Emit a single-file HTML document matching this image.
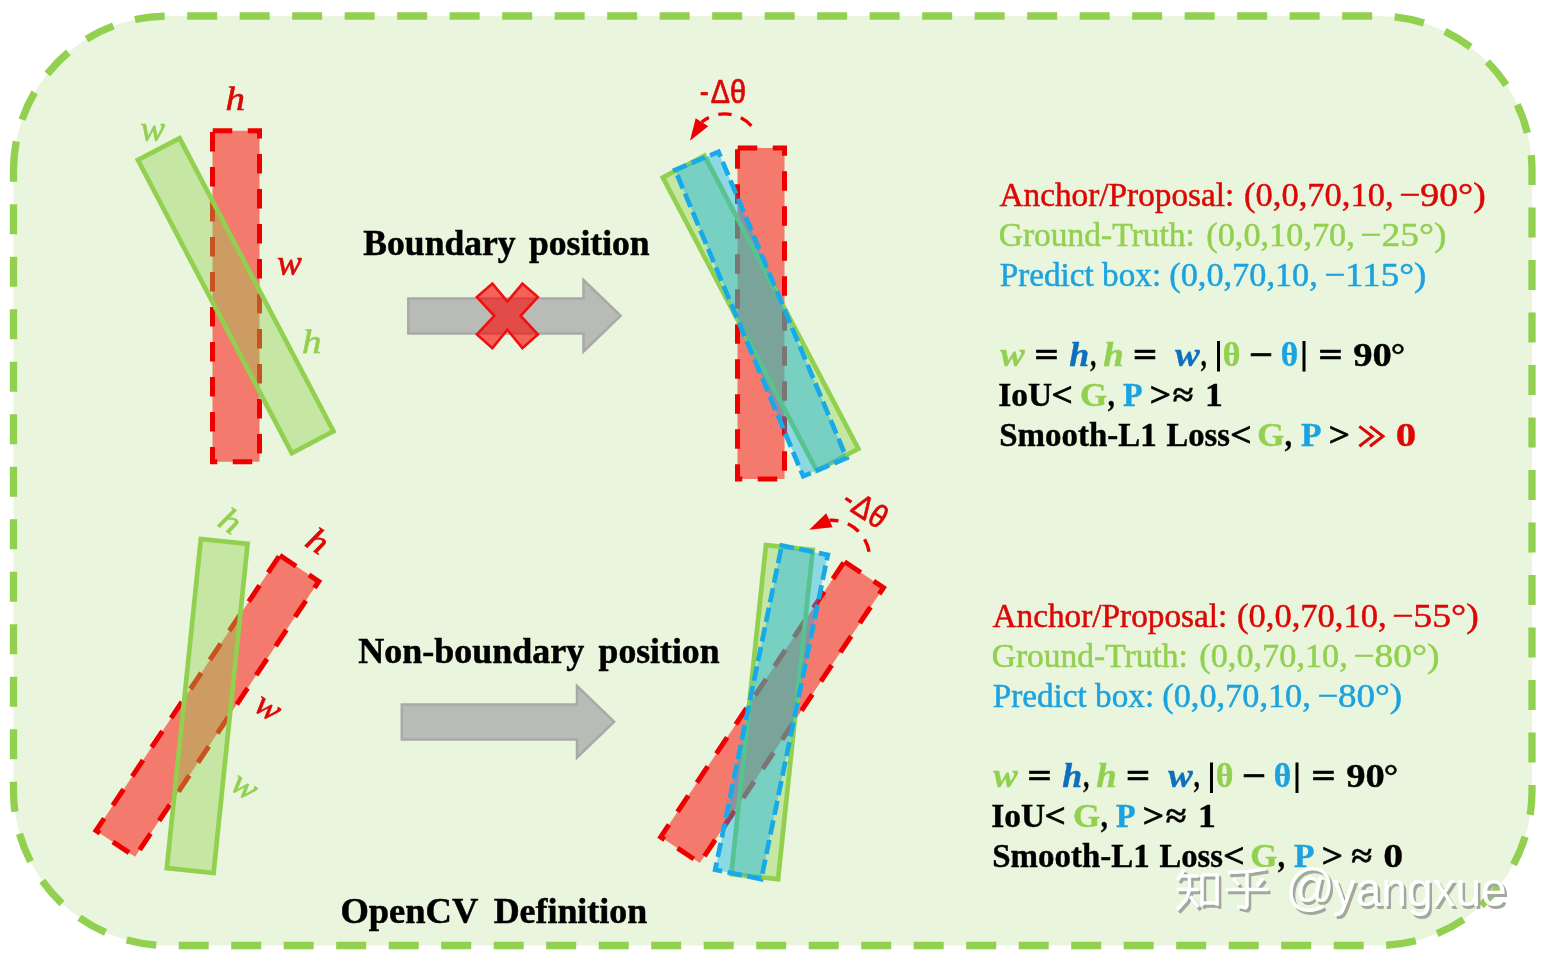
<!DOCTYPE html>
<html><head><meta charset="utf-8"><title>OpenCV Definition</title>
<style>html,body{margin:0;padding:0;background:#fff;}svg{display:block;will-change:transform;font-family:"Liberation Serif",serif;}</style>
</head><body>
<svg width="1546" height="962" viewBox="0 0 1546 962">
<rect width="1546" height="962" fill="#ffffff"/>
<path d="M13.5 170.3 A154.3 154.3 0 0 1 167.8 16 L1377.7 16 A154.3 154.3 0 0 1 1532 170.3 L1532 791.2 A154.3 154.3 0 0 1 1377.7 945.5 L167.8 945.5 A154.3 154.3 0 0 1 13.5 791.2 Z" fill="#e9f5dc" stroke="#92d050" stroke-width="7.3" stroke-dasharray="30 22.5" stroke-dashoffset="0.87"/>
<g transform="translate(236 296.2) rotate(0)"><path d="M-23.5 -165.5 L23.5 -165.5 L23.5 165.5 L-23.5 165.5 Z" fill="rgba(255,0,0,0.5)" stroke="#ee0000" stroke-width="5" stroke-dasharray="19.5 15.5" stroke-dashoffset="-0.25"/></g>
<g transform="translate(235.7 295.7) rotate(-27.7)"><path d="M-23.5 -165.5 L23.5 -165.5 L23.5 165.5 L-23.5 165.5 Z" fill="rgba(146,208,80,0.4)" stroke="#92d050" stroke-width="4.7"/></g>
<g transform="translate(761 313.4) rotate(0)"><path d="M-23.5 -165.5 L23.5 -165.5 L23.5 165.5 L-23.5 165.5 Z" fill="rgba(255,0,0,0.5)" stroke="#ee0000" stroke-width="5" stroke-dasharray="19.5 15.5" stroke-dashoffset="-0.25"/></g>
<g transform="translate(760.6 313.2) rotate(-27.7)"><path d="M-23.5 -165.5 L23.5 -165.5 L23.5 165.5 L-23.5 165.5 Z" fill="rgba(146,208,80,0.4)" stroke="#92d050" stroke-width="4.7"/></g>
<g transform="translate(760.85 314.0) rotate(-22.7)"><path d="M-23.5 -163.65 L-23.5 -166 L23.5 -166 L23.5 166 L-23.5 166 Z" fill="rgba(0,176,240,0.4)" stroke="#17aaea" stroke-width="4.7" stroke-dasharray="14.5 5.5" stroke-dashoffset="-0.25"/></g>
<g transform="translate(207.4 706.0) rotate(33.7)"><path d="M-23.5 -165.5 L23.5 -165.5 L23.5 165.5 L-23.5 165.5 Z" fill="rgba(255,0,0,0.5)" stroke="#ee0000" stroke-width="5" stroke-dasharray="19.5 15.5" stroke-dashoffset="-0.25"/></g>
<g transform="translate(207.2 706.0) rotate(5.9)"><path d="M-23.5 -165.5 L23.5 -165.5 L23.5 165.5 L-23.5 165.5 Z" fill="rgba(146,208,80,0.4)" stroke="#92d050" stroke-width="4.7"/></g>
<g transform="translate(772.1 712.3) rotate(33.7)"><path d="M-23.5 -165.5 L23.5 -165.5 L23.5 165.5 L-23.5 165.5 Z" fill="rgba(255,0,0,0.5)" stroke="#ee0000" stroke-width="5" stroke-dasharray="19.5 15.5" stroke-dashoffset="-0.25"/></g>
<g transform="translate(772.0 712.1) rotate(6.0)"><path d="M-23.5 -165.5 L23.5 -165.5 L23.5 165.5 L-23.5 165.5 Z" fill="rgba(146,208,80,0.4)" stroke="#92d050" stroke-width="4.7"/></g>
<g transform="translate(771.5 712.3) rotate(11.6)"><path d="M-23.5 -163.15 L-23.5 -165.5 L23.5 -165.5 L23.5 165.5 L-23.5 165.5 Z" fill="rgba(0,176,240,0.4)" stroke="#17aaea" stroke-width="4.7" stroke-dasharray="14.5 5.5" stroke-dashoffset="-0.25"/></g>
<path d="M408.3 298.5 L583.5 298.5 L583.5 280 L620.6 315.8 L583.5 351.5 L583.5 333.5 L408.3 333.5 Z" fill="#b9bcb6" stroke="#a7aaa5" stroke-width="2.5" stroke-linejoin="miter"/>
<path d="M401.8 704.5 L577 704.5 L577 686 L614.1 721.8 L577 757.5 L577 739.5 L401.8 739.5 Z" fill="#b9bcb6" stroke="#a7aaa5" stroke-width="2.5" stroke-linejoin="miter"/>
<path d="M476.9 297.1 L492.4 283.6 L507.4 301.5 L522.4 283.6 L537.9 297.1 L520.6 315.8 L537.9 334.4 L522.4 348.1 L507.4 329.8 L492.4 348.1 L476.9 334.4 L494.3 315.8 Z" fill="rgba(255,0,0,0.6)" stroke="#ee1010" stroke-width="2.6" stroke-linejoin="miter"/>
<path d="M751.35 125.8 A36 36 0 0 0 701.8 122" fill="none" stroke="#ee0000" stroke-width="3.4" stroke-dasharray="13.3 9.8"/>
<path d="M690 140.7 L695.7 118.3 L708.3 126.3 Z" fill="#ee0000"/>
<path d="M869.06 551.7 A37.9 37.9 0 0 0 829.45 520.27" fill="none" stroke="#ee0000" stroke-width="3.4" stroke-dasharray="13.3 9.8"/>
<path d="M809.2 529.7 L826.2 513.3 L832.6 527.3 Z" fill="#ee0000"/>
<text x="0.3" y="0" font-size="32.4" fill="#dd0806" font-family="Liberation Sans, sans-serif" textLength="9" lengthAdjust="spacingAndGlyphs" stroke="#dd0806" stroke-width="0.7" transform="translate(699.5 102.8)">-</text><text x="11.2" y="0" font-size="32.4" fill="#dd0806" font-family="Liberation Sans, sans-serif" textLength="35.2" lengthAdjust="spacingAndGlyphs" stroke="#dd0806" stroke-width="0.7" transform="translate(699.5 102.8)">Δθ</text>
<text x="0.3" y="0" font-size="32.4" fill="#dd0806" font-family="Liberation Sans, sans-serif" textLength="9" lengthAdjust="spacingAndGlyphs" stroke="#dd0806" stroke-width="0.7" transform="translate(839.8 504.8) rotate(32.7)">-</text><text x="11.2" y="0" font-size="32.4" fill="#dd0806" font-family="Liberation Sans, sans-serif" textLength="35.2" lengthAdjust="spacingAndGlyphs" stroke="#dd0806" stroke-width="0.7" transform="translate(839.8 504.8) rotate(32.7)">Δθ</text>
<text x="0" y="0" font-size="33.9" fill="#dd0806" font-style="italic" stroke="#dd0806" stroke-width="0.6" transform="translate(225.5 109.6) rotate(0) scale(1.15 1)">h</text>
<text x="0" y="0" font-size="35.4" fill="#92d050" font-style="italic" stroke="#92d050" stroke-width="0.6" transform="translate(140.3 140.8) rotate(0) scale(1.05 1)">w</text>
<text x="0" y="0" font-size="35.4" fill="#dd0806" font-style="italic" stroke="#dd0806" stroke-width="0.6" transform="translate(277 274.5) rotate(0) scale(1.05 1)">w</text>
<text x="0" y="0" font-size="33.9" fill="#92d050" font-style="italic" stroke="#92d050" stroke-width="0.6" transform="translate(302 353.3) rotate(0) scale(1.15 1)">h</text>
<text x="0" y="0" font-size="33.9" fill="#92d050" font-style="italic" stroke="#92d050" stroke-width="0.6" transform="translate(216 525) rotate(33) scale(1.15 1)">h</text>
<text x="0" y="0" font-size="33.9" fill="#dd0806" font-style="italic" stroke="#dd0806" stroke-width="0.6" transform="translate(303.5 545) rotate(33) scale(1.15 1)">h</text>
<text x="0" y="0" font-size="35.4" fill="#dd0806" font-style="italic" stroke="#dd0806" stroke-width="0.6" transform="translate(252 709.5) rotate(33) scale(1.05 1)">w</text>
<text x="0" y="0" font-size="35.4" fill="#92d050" font-style="italic" stroke="#92d050" stroke-width="0.6" transform="translate(228.5 788.5) rotate(33) scale(1.05 1)">w</text>
<text x="363.35" y="254.5" font-size="35.6" fill="#000" font-weight="bold" textLength="152.19" lengthAdjust="spacingAndGlyphs" stroke="#000" stroke-width="0.5">Boundary</text>
<text x="528.95" y="254.5" font-size="35.6" fill="#000" font-weight="bold" textLength="120.69" lengthAdjust="spacingAndGlyphs" stroke="#000" stroke-width="0.5">position</text>
<text x="358.35" y="663.1" font-size="35.6" fill="#000" font-weight="bold" textLength="225.99" lengthAdjust="spacingAndGlyphs" stroke="#000" stroke-width="0.5">Non-boundary</text>
<text x="598.55" y="663.1" font-size="35.6" fill="#000" font-weight="bold" textLength="120.99" lengthAdjust="spacingAndGlyphs" stroke="#000" stroke-width="0.5">position</text>
<text x="340.42" y="922.6" font-size="35.6" fill="#000" font-weight="bold" textLength="137.91" lengthAdjust="spacingAndGlyphs" stroke="#000" stroke-width="0.5">OpenCV</text>
<text x="493.65" y="922.6" font-size="35.6" fill="#000" font-weight="bold" textLength="153.49" lengthAdjust="spacingAndGlyphs" stroke="#000" stroke-width="0.5">Definition</text>
<text x="999.45" y="205.7" font-size="34" fill="#dd0806" textLength="234.9" lengthAdjust="spacingAndGlyphs" stroke="#dd0806" stroke-width="0.5">Anchor/Proposal:</text>
<text x="1244.03" y="205.7" font-size="34" fill="#dd0806" textLength="149.54" lengthAdjust="spacingAndGlyphs" stroke="#dd0806" stroke-width="0.5">(0,0,70,10,</text>
<text x="1399.04" y="205.7" font-size="34" fill="#dd0806" textLength="86.68" lengthAdjust="spacingAndGlyphs" stroke="#dd0806" stroke-width="0.5">−90°)</text>
<text x="998.76" y="245.7" font-size="34" fill="#92d050" textLength="196.1" lengthAdjust="spacingAndGlyphs" stroke="#92d050" stroke-width="0.5">Ground-Truth:</text>
<text x="1206.24" y="245.7" font-size="34" fill="#92d050" textLength="148.62" lengthAdjust="spacingAndGlyphs" stroke="#92d050" stroke-width="0.5">(0,0,10,70,</text>
<text x="1360.35" y="245.7" font-size="34" fill="#92d050" textLength="86.16" lengthAdjust="spacingAndGlyphs" stroke="#92d050" stroke-width="0.5">−25°)</text>
<text x="999.75" y="285.7" font-size="34" fill="#1ba3e1" textLength="161.39" lengthAdjust="spacingAndGlyphs" stroke="#1ba3e1" stroke-width="0.5">Predict box:</text>
<text x="1169.24" y="285.7" font-size="34" fill="#1ba3e1" textLength="148.62" lengthAdjust="spacingAndGlyphs" stroke="#1ba3e1" stroke-width="0.5">(0,0,70,10,</text>
<text x="1324.16" y="285.7" font-size="34" fill="#1ba3e1" textLength="102.13" lengthAdjust="spacingAndGlyphs" stroke="#1ba3e1" stroke-width="0.5">−115°)</text>
<text x="1000.3" y="365.6" font-size="34" fill="#92d050" font-weight="bold" font-style="italic" textLength="24.45" lengthAdjust="spacingAndGlyphs" stroke="#92d050" stroke-width="0.4">w</text>
<text x="1034.5" y="365.6" font-size="34" fill="#000" font-weight="bold" textLength="24.16" lengthAdjust="spacingAndGlyphs" stroke="#000" stroke-width="0.7">=</text>
<text x="1069.2" y="365.6" font-size="34" fill="#0f6fbe" font-weight="bold" font-style="italic" textLength="19.96" lengthAdjust="spacingAndGlyphs" stroke="#0f6fbe" stroke-width="0.4">h</text>
<text x="1090.2" y="365.6" font-size="34" fill="#000" font-weight="bold" textLength="5.95" lengthAdjust="spacingAndGlyphs" stroke="#000" stroke-width="0.4">,</text>
<text x="1103.2" y="365.6" font-size="34" fill="#92d050" font-weight="bold" font-style="italic" textLength="20.48" lengthAdjust="spacingAndGlyphs" stroke="#92d050" stroke-width="0.4">h</text>
<text x="1132.9" y="365.6" font-size="34" fill="#000" font-weight="bold" textLength="24.16" lengthAdjust="spacingAndGlyphs" stroke="#000" stroke-width="0.7">=</text>
<text x="1174.9" y="365.6" font-size="34" fill="#0f6fbe" font-weight="bold" font-style="italic" textLength="24.75" lengthAdjust="spacingAndGlyphs" stroke="#0f6fbe" stroke-width="0.4">w</text>
<text x="1200.7" y="365.6" font-size="34" fill="#000" font-weight="bold" textLength="5.95" lengthAdjust="spacingAndGlyphs" stroke="#000" stroke-width="0.4">,</text>
<rect x="1217" y="341" width="3" height="30.5" fill="#000"/>
<text x="1222.81" y="365.6" font-size="34" fill="#92d050" font-weight="bold" textLength="17.64" lengthAdjust="spacingAndGlyphs" stroke="#92d050" stroke-width="0.4">θ</text>
<text x="1248.7" y="365.6" font-size="34" fill="#000" font-weight="bold" textLength="24.16" lengthAdjust="spacingAndGlyphs" stroke="#000" stroke-width="0.7">−</text>
<text x="1280.82" y="365.6" font-size="34" fill="#1ba3e1" font-weight="bold" textLength="17.41" lengthAdjust="spacingAndGlyphs" stroke="#1ba3e1" stroke-width="0.4">θ</text>
<rect x="1302.5" y="341" width="3" height="30.5" fill="#000"/>
<text x="1318.5" y="365.6" font-size="34" fill="#000" font-weight="bold" textLength="24.16" lengthAdjust="spacingAndGlyphs" stroke="#000" stroke-width="0.7">=</text>
<text x="1353.2" y="365.6" font-size="34" fill="#000" font-weight="bold" textLength="38.64" lengthAdjust="spacingAndGlyphs" stroke="#000" stroke-width="0.4">90</text>
<text x="1390.84" y="365.6" font-size="34" fill="#000" font-weight="bold" textLength="14.46" lengthAdjust="spacingAndGlyphs" stroke="#000" stroke-width="0.4">°</text>
<text x="998.32" y="405.7" font-size="34" fill="#000" font-weight="bold" textLength="53.93" lengthAdjust="spacingAndGlyphs" stroke="#000" stroke-width="0.4">IoU</text>
<text x="1051.45" y="405.7" font-size="34" fill="#000" font-weight="bold" textLength="21.31" lengthAdjust="spacingAndGlyphs" stroke="#000" stroke-width="0.7">&lt;</text>
<text x="1079.97" y="405.7" font-size="34" fill="#92d050" font-weight="bold" textLength="27.19" lengthAdjust="spacingAndGlyphs" stroke="#92d050" stroke-width="0.4">G</text>
<text x="1107.7" y="405.7" font-size="34" fill="#000" font-weight="bold" textLength="7.01" lengthAdjust="spacingAndGlyphs" stroke="#000" stroke-width="0.4">,</text>
<text x="1123.1" y="405.7" font-size="34" fill="#1ba3e1" font-weight="bold" textLength="19.63" lengthAdjust="spacingAndGlyphs" stroke="#1ba3e1" stroke-width="0.4">P</text>
<text x="1149.85" y="405.7" font-size="34" fill="#000" font-weight="bold" textLength="21.31" lengthAdjust="spacingAndGlyphs" stroke="#000" stroke-width="0.7">&gt;</text>
<text x="1172.7" y="405.7" font-size="34" fill="#000" font-weight="bold" textLength="20.53" lengthAdjust="spacingAndGlyphs" stroke="#000" stroke-width="0.4">≈</text>
<text x="1205.1" y="405.7" font-size="34" fill="#000" font-weight="bold" textLength="17.85" lengthAdjust="spacingAndGlyphs" stroke="#000" stroke-width="0.4">1</text>
<text x="999.23" y="445.7" font-size="34" fill="#000" font-weight="bold" textLength="157.44" lengthAdjust="spacingAndGlyphs" stroke="#000" stroke-width="0.4">Smooth-L1</text>
<text x="1166.5" y="445.7" font-size="34" fill="#000" font-weight="bold" textLength="63.42" lengthAdjust="spacingAndGlyphs" stroke="#000" stroke-width="0.4">Loss</text>
<text x="1230.35" y="445.7" font-size="34" fill="#000" font-weight="bold" textLength="21.31" lengthAdjust="spacingAndGlyphs" stroke="#000" stroke-width="0.7">&lt;</text>
<text x="1257.17" y="445.7" font-size="34" fill="#92d050" font-weight="bold" textLength="27.19" lengthAdjust="spacingAndGlyphs" stroke="#92d050" stroke-width="0.4">G</text>
<text x="1284.7" y="445.7" font-size="34" fill="#000" font-weight="bold" textLength="7.22" lengthAdjust="spacingAndGlyphs" stroke="#000" stroke-width="0.4">,</text>
<text x="1301.1" y="445.7" font-size="34" fill="#1ba3e1" font-weight="bold" textLength="20.56" lengthAdjust="spacingAndGlyphs" stroke="#1ba3e1" stroke-width="0.4">P</text>
<text x="1328.76" y="445.7" font-size="34" fill="#000" font-weight="bold" textLength="21.2" lengthAdjust="spacingAndGlyphs" stroke="#000" stroke-width="0.7">&gt;</text>
<path d="M1359.3 426.4 L1372.3 436.3 L1359.3 446.2" fill="none" stroke="#dd0806" stroke-width="3" stroke-linejoin="miter"/>
<path d="M1370.0 426.4 L1383.0 436.3 L1370.0 446.2" fill="none" stroke="#dd0806" stroke-width="3" stroke-linejoin="miter"/>
<text x="1395.79" y="445.7" font-size="34" fill="#dd0806" font-weight="bold" textLength="20.51" lengthAdjust="spacingAndGlyphs" stroke="#dd0806" stroke-width="0.4">0</text>
<text x="992.45" y="627.1" font-size="34" fill="#dd0806" textLength="234.9" lengthAdjust="spacingAndGlyphs" stroke="#dd0806" stroke-width="0.5">Anchor/Proposal:</text>
<text x="1237.03" y="627.1" font-size="34" fill="#dd0806" textLength="149.54" lengthAdjust="spacingAndGlyphs" stroke="#dd0806" stroke-width="0.5">(0,0,70,10,</text>
<text x="1392.04" y="627.1" font-size="34" fill="#dd0806" textLength="86.68" lengthAdjust="spacingAndGlyphs" stroke="#dd0806" stroke-width="0.5">−55°)</text>
<text x="991.76" y="667.2" font-size="34" fill="#92d050" textLength="196.1" lengthAdjust="spacingAndGlyphs" stroke="#92d050" stroke-width="0.5">Ground-Truth:</text>
<text x="1199.24" y="667.2" font-size="34" fill="#92d050" textLength="148.62" lengthAdjust="spacingAndGlyphs" stroke="#92d050" stroke-width="0.5">(0,0,70,10,</text>
<text x="1353.35" y="667.2" font-size="34" fill="#92d050" textLength="86.16" lengthAdjust="spacingAndGlyphs" stroke="#92d050" stroke-width="0.5">−80°)</text>
<text x="992.75" y="707.2" font-size="34" fill="#1ba3e1" textLength="161.39" lengthAdjust="spacingAndGlyphs" stroke="#1ba3e1" stroke-width="0.5">Predict box:</text>
<text x="1162.24" y="707.2" font-size="34" fill="#1ba3e1" textLength="148.62" lengthAdjust="spacingAndGlyphs" stroke="#1ba3e1" stroke-width="0.5">(0,0,70,10,</text>
<text x="1317.16" y="707.2" font-size="34" fill="#1ba3e1" textLength="85.03" lengthAdjust="spacingAndGlyphs" stroke="#1ba3e1" stroke-width="0.5">−80°)</text>
<text x="993.3" y="787.1" font-size="34" fill="#92d050" font-weight="bold" font-style="italic" textLength="24.45" lengthAdjust="spacingAndGlyphs" stroke="#92d050" stroke-width="0.4">w</text>
<text x="1027.5" y="787.1" font-size="34" fill="#000" font-weight="bold" textLength="24.16" lengthAdjust="spacingAndGlyphs" stroke="#000" stroke-width="0.7">=</text>
<text x="1062.2" y="787.1" font-size="34" fill="#0f6fbe" font-weight="bold" font-style="italic" textLength="19.96" lengthAdjust="spacingAndGlyphs" stroke="#0f6fbe" stroke-width="0.4">h</text>
<text x="1083.2" y="787.1" font-size="34" fill="#000" font-weight="bold" textLength="5.95" lengthAdjust="spacingAndGlyphs" stroke="#000" stroke-width="0.4">,</text>
<text x="1096.2" y="787.1" font-size="34" fill="#92d050" font-weight="bold" font-style="italic" textLength="20.48" lengthAdjust="spacingAndGlyphs" stroke="#92d050" stroke-width="0.4">h</text>
<text x="1125.9" y="787.1" font-size="34" fill="#000" font-weight="bold" textLength="24.16" lengthAdjust="spacingAndGlyphs" stroke="#000" stroke-width="0.7">=</text>
<text x="1167.9" y="787.1" font-size="34" fill="#0f6fbe" font-weight="bold" font-style="italic" textLength="24.75" lengthAdjust="spacingAndGlyphs" stroke="#0f6fbe" stroke-width="0.4">w</text>
<text x="1193.7" y="787.1" font-size="34" fill="#000" font-weight="bold" textLength="5.95" lengthAdjust="spacingAndGlyphs" stroke="#000" stroke-width="0.4">,</text>
<rect x="1210" y="762.5" width="3" height="30.5" fill="#000"/>
<text x="1215.81" y="787.1" font-size="34" fill="#92d050" font-weight="bold" textLength="17.64" lengthAdjust="spacingAndGlyphs" stroke="#92d050" stroke-width="0.4">θ</text>
<text x="1241.7" y="787.1" font-size="34" fill="#000" font-weight="bold" textLength="24.16" lengthAdjust="spacingAndGlyphs" stroke="#000" stroke-width="0.7">−</text>
<text x="1273.82" y="787.1" font-size="34" fill="#1ba3e1" font-weight="bold" textLength="17.41" lengthAdjust="spacingAndGlyphs" stroke="#1ba3e1" stroke-width="0.4">θ</text>
<rect x="1295.5" y="762.5" width="3" height="30.5" fill="#000"/>
<text x="1311.5" y="787.1" font-size="34" fill="#000" font-weight="bold" textLength="24.16" lengthAdjust="spacingAndGlyphs" stroke="#000" stroke-width="0.7">=</text>
<text x="1346.2" y="787.1" font-size="34" fill="#000" font-weight="bold" textLength="38.64" lengthAdjust="spacingAndGlyphs" stroke="#000" stroke-width="0.4">90</text>
<text x="1383.84" y="787.1" font-size="34" fill="#000" font-weight="bold" textLength="14.46" lengthAdjust="spacingAndGlyphs" stroke="#000" stroke-width="0.4">°</text>
<text x="991.32" y="827.2" font-size="34" fill="#000" font-weight="bold" textLength="53.93" lengthAdjust="spacingAndGlyphs" stroke="#000" stroke-width="0.4">IoU</text>
<text x="1044.45" y="827.2" font-size="34" fill="#000" font-weight="bold" textLength="21.31" lengthAdjust="spacingAndGlyphs" stroke="#000" stroke-width="0.7">&lt;</text>
<text x="1072.97" y="827.2" font-size="34" fill="#92d050" font-weight="bold" textLength="27.19" lengthAdjust="spacingAndGlyphs" stroke="#92d050" stroke-width="0.4">G</text>
<text x="1100.7" y="827.2" font-size="34" fill="#000" font-weight="bold" textLength="7.01" lengthAdjust="spacingAndGlyphs" stroke="#000" stroke-width="0.4">,</text>
<text x="1116.1" y="827.2" font-size="34" fill="#1ba3e1" font-weight="bold" textLength="19.63" lengthAdjust="spacingAndGlyphs" stroke="#1ba3e1" stroke-width="0.4">P</text>
<text x="1142.85" y="827.2" font-size="34" fill="#000" font-weight="bold" textLength="21.31" lengthAdjust="spacingAndGlyphs" stroke="#000" stroke-width="0.7">&gt;</text>
<text x="1165.7" y="827.2" font-size="34" fill="#000" font-weight="bold" textLength="20.53" lengthAdjust="spacingAndGlyphs" stroke="#000" stroke-width="0.4">≈</text>
<text x="1198.1" y="827.2" font-size="34" fill="#000" font-weight="bold" textLength="17.85" lengthAdjust="spacingAndGlyphs" stroke="#000" stroke-width="0.4">1</text>
<text x="992.23" y="867.2" font-size="34" fill="#000" font-weight="bold" textLength="157.44" lengthAdjust="spacingAndGlyphs" stroke="#000" stroke-width="0.4">Smooth-L1</text>
<text x="1159.5" y="867.2" font-size="34" fill="#000" font-weight="bold" textLength="63.42" lengthAdjust="spacingAndGlyphs" stroke="#000" stroke-width="0.4">Loss</text>
<text x="1223.35" y="867.2" font-size="34" fill="#000" font-weight="bold" textLength="21.31" lengthAdjust="spacingAndGlyphs" stroke="#000" stroke-width="0.7">&lt;</text>
<text x="1250.17" y="867.2" font-size="34" fill="#92d050" font-weight="bold" textLength="27.19" lengthAdjust="spacingAndGlyphs" stroke="#92d050" stroke-width="0.4">G</text>
<text x="1277.7" y="867.2" font-size="34" fill="#000" font-weight="bold" textLength="7.22" lengthAdjust="spacingAndGlyphs" stroke="#000" stroke-width="0.4">,</text>
<text x="1294.1" y="867.2" font-size="34" fill="#1ba3e1" font-weight="bold" textLength="20.56" lengthAdjust="spacingAndGlyphs" stroke="#1ba3e1" stroke-width="0.4">P</text>
<text x="1321.76" y="867.2" font-size="34" fill="#000" font-weight="bold" textLength="21.2" lengthAdjust="spacingAndGlyphs" stroke="#000" stroke-width="0.7">&gt;</text>
<text x="1351.3" y="867.2" font-size="34" fill="#000" font-weight="bold" textLength="20.84" lengthAdjust="spacingAndGlyphs" stroke="#000" stroke-width="0.4">≈</text>
<text x="1383.23" y="867.2" font-size="34" fill="#000" font-weight="bold" textLength="19.95" lengthAdjust="spacingAndGlyphs" stroke="#000" stroke-width="0.4">0</text>
<path d="M1186.4 872.7 L1180.1 883.2 M1183.5 879.0 L1200.7 879.0 M1178.9 892.4 L1201.1 892.4 M1191.9 879.0 L1191.9 893.3 L1188.5 902.5 L1179.3 912.6 M1192.7 899.2 L1200.7 910.1 M1204.5 877.7 L1204.5 908.8 M1204.5 877.7 L1219.6 877.7 L1219.6 908.8 M1204.5 905.9 L1219.6 905.9 M1268.4 871.8 L1251.6 874.4 L1230.2 875.6 M1235.6 881.1 L1241.5 888.2 M1265.5 881.1 L1259.2 889.1 M1228.1 892.4 L1270.5 892.4 M1249.5 875.6 L1249.5 908.4 L1247.8 910.9 L1239.8 909.1" fill="none" stroke="#a3a89e" stroke-width="3.5" stroke-linejoin="round"/>
<text x="1287.99" y="907.8" font-size="51" fill="#a3a89e" font-family="Liberation Sans, sans-serif" textLength="49.3" lengthAdjust="spacingAndGlyphs" >@</text>
<text x="1335.3" y="909" font-size="49" fill="#a3a89e" font-family="Liberation Sans, sans-serif" textLength="173.87" lengthAdjust="spacingAndGlyphs" >yangxue</text>
<path d="M1183.9 869.7 L1177.6 880.2 M1181.0 876.0 L1198.2 876.0 M1176.4 889.4 L1198.6 889.4 M1189.4 876.0 L1189.4 890.3 L1186.0 899.5 L1176.8 909.6 M1190.2 896.2 L1198.2 907.1 M1202.0 874.7 L1202.0 905.8 M1202.0 874.7 L1217.1 874.7 L1217.1 905.8 M1202.0 902.9 L1217.1 902.9 M1265.9 868.8 L1249.1 871.4 L1227.7 872.6 M1233.1 878.1 L1239.0 885.2 M1263.0 878.1 L1256.7 886.1 M1225.6 889.4 L1268.0 889.4 M1247.0 872.6 L1247.0 905.4 L1245.3 907.9 L1237.3 906.1" fill="none" stroke="#ffffff" stroke-width="3.5" stroke-linejoin="round"/>
<text x="1285.49" y="904.8" font-size="51" fill="#ffffff" font-family="Liberation Sans, sans-serif" textLength="49.3" lengthAdjust="spacingAndGlyphs" >@</text>
<text x="1332.8" y="906" font-size="49" fill="#ffffff" font-family="Liberation Sans, sans-serif" textLength="173.87" lengthAdjust="spacingAndGlyphs" >yangxue</text>
</svg>
</body></html>
